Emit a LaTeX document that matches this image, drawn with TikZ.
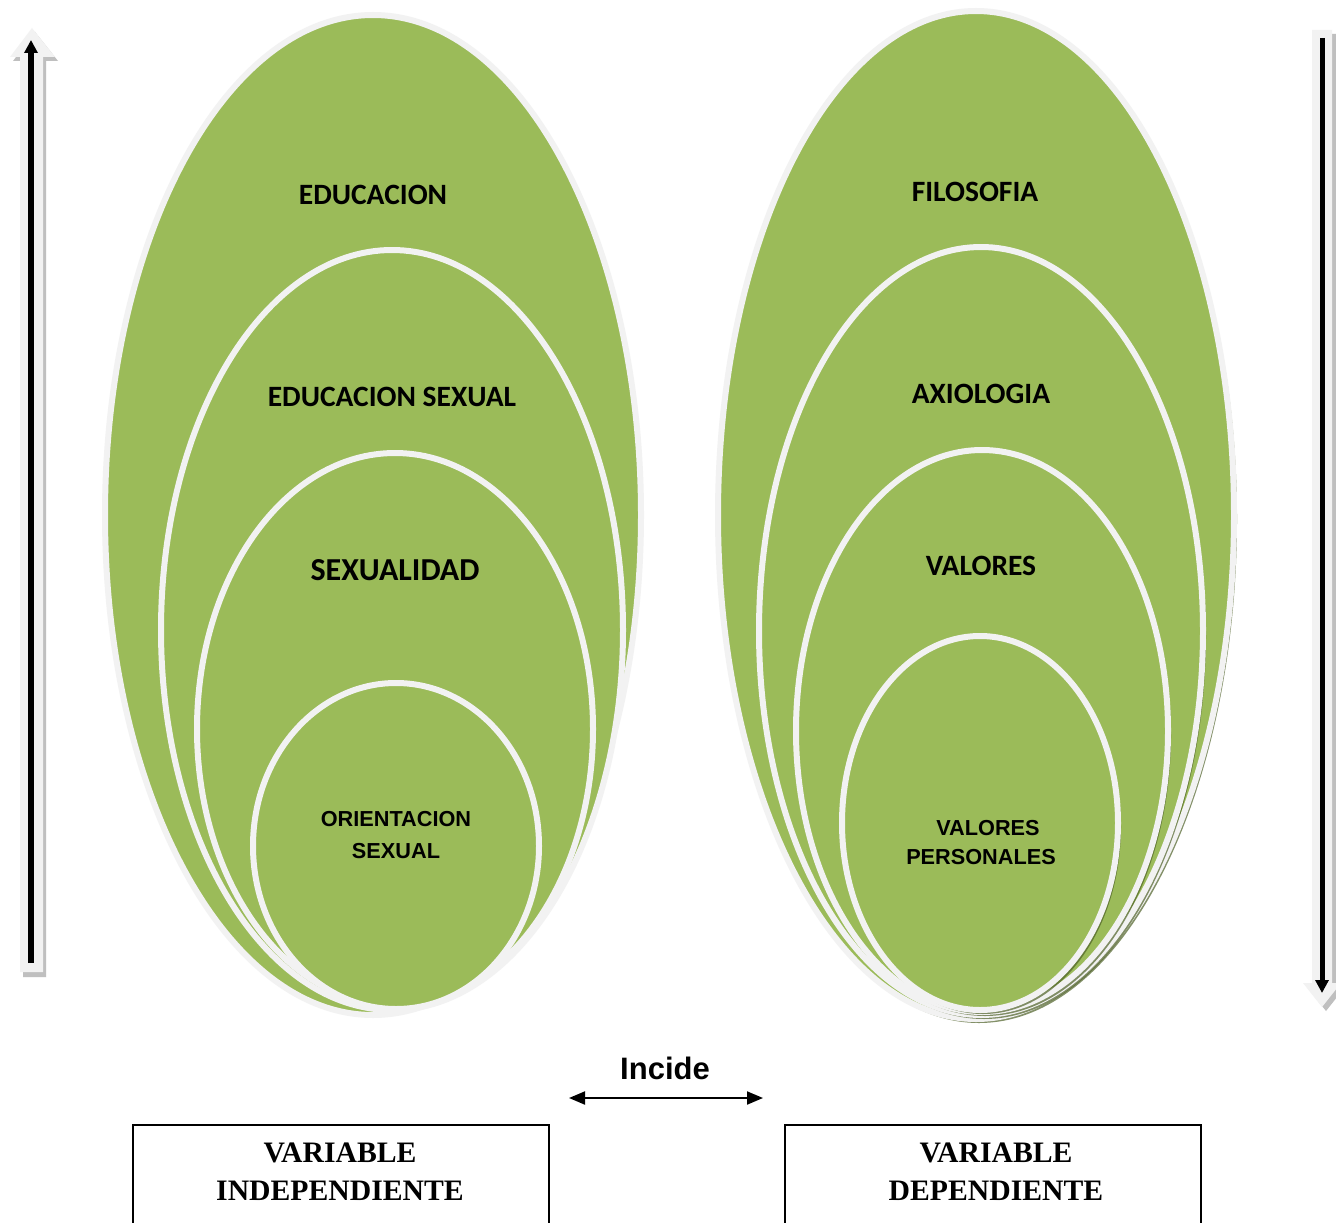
\documentclass[tikz,border=0pt]{standalone}
\usepackage{fontspec}
\newfontfamily\calfont{Carlito}
\newfontfamily\arialfont{Liberation Sans}
\newfontfamily\timesfont{Liberation Serif}
\usetikzlibrary{shapes.geometric,arrows.meta,shadows}
\definecolor{olivefill}{HTML}{9BBB59}
\definecolor{rim}{HTML}{F2F2F2}
\definecolor{shadegreen}{HTML}{4F6228}
\definecolor{arrshadow}{HTML}{BFBFBF}
\tikzset{
  ell/.style={ellipse, fill=olivefill, draw=rim, line width=6pt, inner sep=0pt, outer sep=0pt},
  ellsh/.style={ell, drop shadow={shadow xshift=3pt, shadow yshift=-4pt, fill=shadegreen, opacity=0.7}},
  callab/.style={font=\calfont\bfseries\fontsize{29.5}{34}\selectfont, text=black, inner sep=0pt},
  biglab/.style={font=\calfont\bfseries\fontsize{32}{36}\selectfont, text=black, inner sep=0pt},
  ariallab/.style={font=\arialfont\bfseries\fontsize{21.7}{32}\selectfont, text=black, inner sep=0pt, align=center},
  blockarrow/.style={fill=rim, draw=none},
  blockshadow/.style={fill=arrshadow, draw=none},
  blackline/.style={line width=6pt, -{Triangle[width=13pt,length=13pt]}},
  varbox/.style={draw=black, line width=1.5pt, minimum width=416pt, minimum height=150pt, inner sep=0pt},
  varlab/.style={font=\timesfont\bfseries\fontsize{29.7}{38}\selectfont, align=center, inner sep=0pt},
}
\begin{document}
\begin{tikzpicture}[x=1pt,y=-1pt]
\clip (0,0) rectangle (1336,1223);
\fill[white] (0,0) rectangle (1336,1223);

% left block arrow (up)
\fill[blockshadow] (35,32) -- (58,61) -- (46,61) -- (46,977) -- (23,977) -- (23,61) -- (13,61) -- cycle;
\fill[blockarrow] (32,28) -- (55,57) -- (43,57) -- (43,972) -- (20,972) -- (20,57) -- (10,57) -- cycle;
\coordinate (lbot) at (31,963);
\coordinate (ltop) at (31,40);
\draw[blackline] (lbot) -- (ltop);

% right block arrow (down)
\fill[blockshadow] (1316,34) -- (1336,34) -- (1336,987) -- (1345,987) -- (1326,1011) -- (1307,987) -- (1316,987) -- cycle;
\fill[blockarrow] (1312,30) -- (1332,30) -- (1332,983) -- (1341,983) -- (1322,1007) -- (1303,983) -- (1312,983) -- cycle;
\coordinate (rtop) at (1322,38);
\coordinate (rbot) at (1322,993);
\draw[blackline, line width=5pt] (rtop) -- (rbot);

% left ellipses
\node[ell, minimum width=536pt, minimum height=1000pt] (educ) at (373,515) {};
\node[ell, minimum width=462pt, minimum height=760pt] (edsex) at (392,630) {};
\node[ell, minimum width=396pt, minimum height=552pt] (sexu) at (395,729) {};
\node[ell, minimum width=286pt, minimum height=326pt] (orien) at (396,846) {};

\node[callab] (t1) at (373,195) {EDUCACION};
\node[callab] (t2) at (392,397) {EDUCACION SEXUAL};
\node[biglab] (t3) at (395,570) {SEXUALIDAD};
\node[ariallab] (t4) at (396,835) {ORIENTACION\\SEXUAL};

% right ellipses
\node[ellsh, minimum width=516pt, minimum height=1008pt] (filo) at (976,515) {};
\node[ellsh, minimum width=444pt, minimum height=768pt] (axio) at (981,631) {};
\node[ellsh, minimum width=372pt, minimum height=562pt] (valo) at (982,731) {};
\node[ellsh, minimum width=276pt, minimum height=374pt] (vper) at (980,823) {};

\node[callab] (t5) at (975,192) {FILOSOFIA};
\node[callab] (t6) at (981,394) {AXIOLOGIA};
\node[callab] (t7) at (981,566) {VALORES};
\node[ariallab, font=\arialfont\bfseries\fontsize{21.7}{29}\selectfont] (t8) at (981,843) {\hspace*{14pt}VALORES\\PERSONALES};

% incide
\node[font=\arialfont\bfseries\fontsize{31}{36}\selectfont, inner sep=0pt] (inc) at (665,1068) {Incide};
\coordinate (ia) at (569,1098);
\coordinate (ib) at (763,1098);
\draw[line width=2pt, {Triangle[width=13pt,length=16pt]}-{Triangle[width=13pt,length=16pt]}] (ia) -- (ib);

% variable boxes
\node[varbox, anchor=north west] (vi) at (132,1124) {};
\node[varbox, anchor=north west] (vd) at (784,1124) {};
\node[varlab] (vit) at (340,1172) {VARIABLE\\INDEPENDIENTE};
\node[varlab] (vdt) at (996,1172) {VARIABLE\\DEPENDIENTE};
\end{tikzpicture}
\end{document}
